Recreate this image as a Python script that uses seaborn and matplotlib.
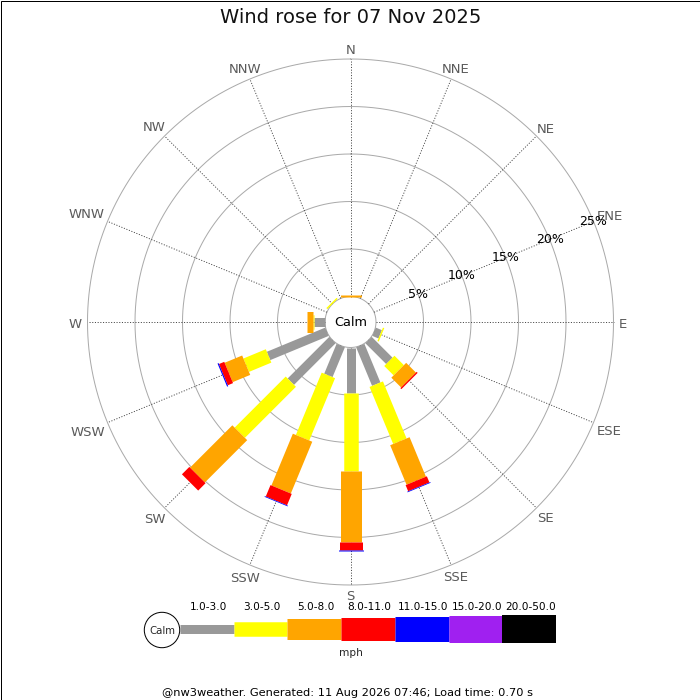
import numpy as np
import matplotlib
matplotlib.use("Agg")
import matplotlib.pyplot as plt
import seaborn as sns
from matplotlib.patches import Circle, Rectangle

# ---------------- data ----------------
directions = ["N", "NNE", "NE", "ENE", "E", "ESE", "SE", "SSE",
              "S", "SSW", "SW", "WSW", "W", "WNW", "NW", "NNW"]
speed_bins = ["1.0-3.0", "3.0-5.0", "5.0-8.0", "8.0-11.0",
              "11.0-15.0", "15.0-20.0", "20.0-50.0"]
bin_colors = ["#999999", "#ffff00", "#ffa500", "#ff0000",
              "#0000ff", "#a020f0", "#000000"]
# frequency (%) per direction for each speed bin
freq_1_3 = [0, 0, 0, 0, 0, 0.7, 3.1, 4.4, 4.8, 3.4, 6.2, 6.65, 1.2, 0, 0, 0]
freq_3_5 = [0, 0, 0, 0, 0, 0.15, 1.4, 6.5, 8.2, 7.1, 7.6, 2.55, 0.1, 0, 0.15, 0]
freq_5_8 = [0.15, 0, 0, 0, 0, 0, 1.45, 4.5, 7.5, 5.9, 6.3, 2.0, 0.55, 0, 0, 0]
freq_8_11 = [0, 0, 0, 0, 0, 0, 0.15, 0.7, 0.8, 1.3, 1.1, 0.6, 0, 0, 0, 0]
freq_11_15 = [0, 0, 0, 0, 0, 0, 0, 0.08, 0.1, 0.08, 0, 0.12, 0, 0, 0, 0]
freq_15_20 = [0, 0, 0, 0, 0, 0, 0, 0, 0, 0, 0, 0, 0, 0, 0, 0]
freq_20_50 = [0, 0, 0, 0, 0, 0, 0, 0, 0, 0, 0, 0, 0, 0, 0, 0]
radial_ticks = [5, 10, 15, 20, 25]
radial_labels = ["5%", "10%", "15%", "20%", "25%"]
title = "Wind rose for 07 Nov 2025"
unit_label = "mph"
calm_label = "Calm"
footer = "@nw3weather. Generated: 11 Aug 2026 07:46; Load time: 0.70 s"

freqs = [freq_1_3, freq_3_5, freq_5_8, freq_8_11, freq_11_15, freq_15_20, freq_20_50]

# ---------------- style ----------------
sns.set_theme(style="white")
plt.rcParams["font.family"] = ["DejaVu Sans"]
palette = sns.color_palette(bin_colors)

W = H = 700
DPI = 100
PT = 72.0 / DPI  # points per pixel
fig = plt.figure(figsize=(W / DPI, H / DPI), dpi=DPI, facecolor="white")

cx, cy = 350.5, 322.0     # rose centre (pixels, from top)
R = 263.0                 # outer ring radius (pixels)
px_per_pct = 9.5
rmax = 25
rorigin = rmax - R / px_per_pct

ax = fig.add_axes([(cx - R) / W, (H - cy - R) / H, 2 * R / W, 2 * R / H],
                  projection="polar")
ax.set_theta_zero_location("N")
ax.set_theta_direction(-1)
ax.set_ylim(0, rmax)
ax.set_rorigin(rorigin)
ax.axis("off")

theta = np.deg2rad(np.arange(16) * 22.5)
circ = np.linspace(0, 2 * np.pi, 721)

# rings
for r in [0] + radial_ticks:
    ax.plot(circ, np.full_like(circ, r), color="#aaaaaa", lw=1.0 * PT,
            clip_on=False, zorder=1)
# spokes
for i, t in enumerate(theta):
    ax.plot([t, t], [0, rmax], color="#3a3a3a", lw=0.9 * PT,
            ls=(0, (1.2, 1.8)), clip_on=False, zorder=1)

# stacked bars
bar_px = [9, 14.5, 21, 23, 25, 27, 28]
base = np.zeros(16)
for k, f in enumerate(freqs):
    f = np.asarray(f, dtype=float)
    top = base + f
    m = f > 0
    if m.any():
        ax.vlines(theta[m], base[m], top[m], colors=[palette[k]],
                  linewidth=bar_px[k] * PT, capstyle="butt",
                  clip_on=False, zorder=3 + k)
    base = top

# calm disc
ax.text(0, rorigin, calm_label, ha="center", va="center", fontsize=9.3,
        color="black", zorder=20)

# radial labels along ENE
for r, lab in zip(radial_ticks, radial_labels):
    ax.text(np.deg2rad(67.5), r, lab, ha="center", va="center",
            fontsize=9, color="black", zorder=21, clip_on=False)

# direction labels placed just outside the outer ring
renderer = fig.canvas.get_renderer()
edge_px = 268.5
hh = 4.5
for t, lab in zip(theta, directions):
    tx = ax.annotate(lab, xy=(t, rmax), xytext=(0, -2.0 * PT),
                     textcoords="offset points", ha="center", va="center",
                     fontsize=9.5, color="#5a5a5a", annotation_clip=False)
    bb = tx.get_window_extent(renderer)
    hw = bb.width / 2.0
    rp = edge_px + np.hypot(hw * np.sin(t), hh * np.cos(t))
    tx.xy = (t, rorigin + rp / px_per_pct)

# ---------------- overlay (pixel coordinates) ----------------
ov = fig.add_axes([0, 0, 1, 1], facecolor="none")
ov.set_xlim(0, W)
ov.set_ylim(H, 0)
ov.axis("off")

ov.text(351, 17.5, title, ha="center", va="center", fontsize=14, color="#111111")

# legend
seg_w = 53.7
x0 = 180.0
leg_y = 629.0
for k, lab in enumerate(speed_bins):
    xa = x0 + k * seg_w
    ov.hlines(leg_y, xa, xa + seg_w, colors=[palette[k]],
              linewidth=bar_px[k] * PT, capstyle="butt")
    ov.text(xa + seg_w / 2 + 1.5, 606.5, lab, ha="center", va="center",
            fontsize=7.6, color="black")
ov.add_patch(Circle((162, 630), 17.7, facecolor="white", edgecolor="black",
                    lw=1.0 * PT, zorder=5))
ov.text(162, 630.5, calm_label, ha="center", va="center", fontsize=7.3, zorder=6)
ov.text(350.5, 653.5, unit_label, ha="center", va="center", fontsize=7.6)

ov.text(348, 692.5, footer, ha="center", va="center", fontsize=8.2, color="black")

# border
ov.add_patch(Rectangle((0.5, 0.5), W - 1, H - 1, fill=False, edgecolor="black",
                       lw=1.0 * PT, zorder=30))

fig.savefig("out.png", dpi=DPI, facecolor="white")
